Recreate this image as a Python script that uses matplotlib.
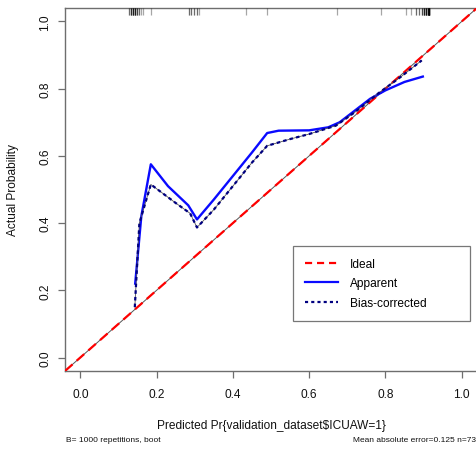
import numpy as np
import matplotlib
matplotlib.use("Agg")
import matplotlib.pyplot as plt
from matplotlib.lines import Line2D
from matplotlib.transforms import blended_transform_factory

plt.rcParams['font.family'] = ['Liberation Sans', 'DejaVu Sans']

# ---------------- data ----------------
ideal_x = [-0.04, 1.04]
ideal_y = [-0.04, 1.04]

apparent_x = [0.144, 0.160, 0.185, 0.230, 0.283, 0.306, 0.350, 0.400, 0.450,
              0.490, 0.520, 0.600, 0.650, 0.680, 0.720, 0.760, 0.800, 0.850, 0.898]
apparent_y = [0.220, 0.420, 0.575, 0.510, 0.453, 0.411, 0.470, 0.540, 0.610,
              0.668, 0.675, 0.676, 0.685, 0.700, 0.735, 0.770, 0.795, 0.820, 0.836]

bias_x = [0.143, 0.155, 0.185, 0.250, 0.288, 0.306, 0.350, 0.400, 0.450,
          0.490, 0.550, 0.600, 0.670, 0.720, 0.780, 0.840, 0.895]
bias_y = [0.150, 0.400, 0.515, 0.460, 0.429, 0.387, 0.440, 0.510, 0.580,
          0.630, 0.650, 0.665, 0.690, 0.730, 0.785, 0.835, 0.884]

rug_values = [0.129, 0.134, 0.139, 0.144, 0.149, 0.154, 0.160, 0.164, 0.185,
              0.284, 0.291, 0.298, 0.306, 0.312, 0.434, 0.489, 0.673, 0.788,
              0.853, 0.868, 0.880, 0.888, 0.897, 0.901, 0.906, 0.911, 0.914]
rug_counts = [2, 4, 5, 5, 3, 2, 1, 1, 1,
              2, 2, 2, 2, 1, 1, 1, 1, 1,
              1, 1, 2, 2, 3, 5, 6, 6, 10]

x_ticks = [0.0, 0.2, 0.4, 0.6, 0.8, 1.0]
y_ticks = [0.0, 0.2, 0.4, 0.6, 0.8, 1.0]
tick_labels = ["0.0", "0.2", "0.4", "0.6", "0.8", "1.0"]

legend_labels = ["Ideal", "Apparent", "Bias-corrected"]
x_label = "Predicted Pr{validation_dataset$ICUAW=1}"
y_label = "Actual Probability"
foot_left = "B= 1000 repetitions, boot"
foot_right = "Mean absolute error=0.125 n=73"

# ---------------- figure ----------------
W, H = 477, 452
fig = plt.figure(figsize=(W / 100, H / 100), dpi=100)
L, R, T, B = 65, 477, 9, 372
ax = fig.add_axes([L / W, 1 - B / H, (R - L) / W, (B - T) / H])
ax.set_xlim(-0.04, 1.04)
ax.set_ylim(-0.04, 1.04)

axis_col = '#6e6e6e'
for s in ['left', 'bottom', 'top']:
    ax.spines[s].set_color(axis_col)
    ax.spines[s].set_linewidth(1.0)
ax.spines['right'].set_visible(False)

ax.set_xticks(x_ticks)
ax.set_xticklabels(tick_labels)
ax.set_yticks(y_ticks)
ax.set_yticklabels(tick_labels, rotation=90, va='center')
ax.tick_params(axis='both', length=5.2, width=0.9, color=axis_col,
               labelsize=8.6, labelcolor='#111111')
ax.tick_params(axis='x', pad=7)
ax.tick_params(axis='y', pad=4.5)

# ideal line (thin grey underlay + red dashes)
ax.plot(ideal_x, ideal_y, color='#555555', lw=0.7, zorder=2)
ax.plot(ideal_x, ideal_y, color='red', lw=1.6, dashes=(4.5, 2.5), zorder=3)

# apparent
ax.plot(apparent_x, apparent_y, color='#0a0aff', lw=1.7, zorder=4)

# bias-corrected
ax.plot(bias_x, bias_y, color='#555555', lw=0.6, zorder=5)
ax.plot(bias_x, bias_y, color='#000080', lw=1.6, dashes=(1.6, 1.4), zorder=6)

# rug on top
rug = np.repeat(rug_values, rug_counts)
trans = blended_transform_factory(ax.transData, ax.transAxes)
ax.vlines(rug, 1.0 - 7 / (B - T), 1.0, transform=trans, colors='black',
          alpha=0.35, lw=0.9, zorder=7)

# legend
handles = [
    Line2D([], [], color='red', lw=1.6, dashes=(3.2, 2.2)),
    Line2D([], [], color='#0a0aff', lw=1.6),
    Line2D([], [], color='#000080', lw=1.6, dashes=(1.4, 1.4)),
]
lx0, ly0, lx1, ly1 = 293, 247, 470, 323
leg = ax.legend(handles, legend_labels, loc='upper left',
                bbox_to_anchor=(lx0 / W, 1 - ly1 / H, (lx1 - lx0) / W, (ly1 - ly0) / H),
                bbox_transform=fig.transFigure, mode='expand', borderaxespad=0,
                fancybox=False, framealpha=1, edgecolor='#777777',
                fontsize=8.6, handlelength=2.8, handletextpad=1.0,
                labelspacing=0.62, borderpad=1.0)
leg.get_frame().set_linewidth(0.9)

# labels
fig.text(L / W + (R - L) / W * 0.5 - 0.0, 1 - 426 / H, x_label, ha='center', va='center',
         fontsize=8.6, color='#111111')
fig.text(13 / W, 1 - ((T + B) / 2) / H, y_label, ha='center', va='center',
         rotation=90, fontsize=8.6, color='#111111')
fig.text(66 / W, 1 - 441 / H, foot_left, ha='left', va='center',
         fontsize=6.0, color='#111111')
fig.text(476 / W, 1 - 441 / H, foot_right, ha='right', va='center',
         fontsize=6.0, color='#111111')

fig.savefig('out.png', dpi=100)
